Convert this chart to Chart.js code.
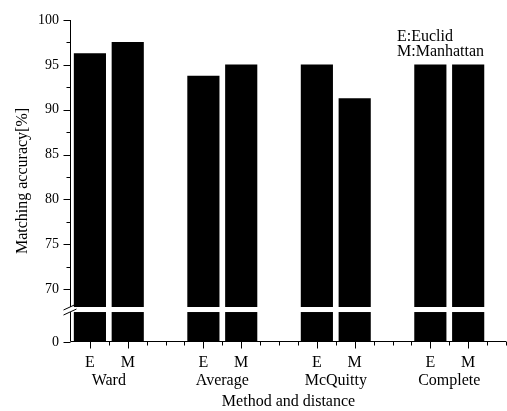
<!DOCTYPE html>
<html lang="en">
<head>
<meta charset="UTF-8" />
<title>Matching accuracy</title>
<script src="https://cdn.jsdelivr.net/npm/chart.js"></script>
<style>
  html, body { margin: 0; padding: 0; background: #fff; }
  #box { width: 507px; height: 411px; }
</style>
</head>
<body>
<div id="box"><canvas id="grafico"></canvas></div>
<script>
  // valores
  const metodos = ['Ward', 'Average', 'McQuitty', 'Complete'];
  const distancias = ['E', 'M'];
  const euclid = [96.25, 93.75, 95, 95];
  const manhattan = [97.5, 95, 91.25, 95];
  const yTicks = [0, 70, 75, 80, 85, 90, 95, 100];
  const yMinor = [72.5, 77.5, 82.5, 87.5, 92.5, 97.5];
  const legenda = ['E:Euclid', 'M:Manhattan'];

  // eixo y quebrado: o "0" fica logo abaixo da quebra
  const ZERO_POS = 64.12;
  const QUEBRA_CIMA = 68.02;
  const QUEBRA_BAIXO = 67.46;
  const X_MAX = 23;

  const FONTE = "'Liberation Serif', 'Times New Roman', serif";

  // posição no eixo x de cada barra (E e M de cada método)
  function posicao(i, d) {
    return 1 + i * 6 + d * 2;
  }

  function rotuloX(v) {
    for (let i = 0; i < metodos.length; i++) {
      if (v === posicao(i, 0)) return [distancias[0]];
      if (v === posicao(i, 1)) return [distancias[1]];
      if (v === posicao(i, 0) + 1) return ['', metodos[i]];
    }
    return '';
  }

  const dadosE = euclid.map((v, i) => ({ x: posicao(i, 0), y: v }));
  const dadosM = manhattan.map((v, i) => ({ x: posicao(i, 1), y: v }));

  // quebra do eixo, ticks e legenda desenhados à mão
  const quebraPlugin = {
    id: 'quebra',
    afterDraw(chart) {
      const { ctx, chartArea: a, scales: { x, y } } = chart;
      const yHi = y.getPixelForValue(QUEBRA_CIMA);
      const yLo = y.getPixelForValue(QUEBRA_BAIXO);
      const x0 = Math.round(a.left) - 0.5;
      const yb = Math.round(a.bottom) - 0.5;

      ctx.save();
      ctx.fillStyle = '#fff';
      ctx.fillRect(x0 + 1, yHi, a.right - x0, yLo - yHi);

      ctx.strokeStyle = '#000';
      ctx.lineWidth = 1;
      ctx.beginPath();
      // eixo y em duas partes
      ctx.moveTo(x0, y.getPixelForValue(100));
      ctx.lineTo(x0, yHi);
      ctx.moveTo(x0, yLo);
      ctx.lineTo(x0, yb);
      // eixo x
      ctx.moveTo(x0, yb);
      ctx.lineTo(x.getPixelForValue(X_MAX), yb);

      // ticks y
      yTicks.forEach(v => {
        const p = Math.round(y.getPixelForValue(v === 0 ? ZERO_POS : v)) + 0.5;
        ctx.moveTo(x0, p);
        ctx.lineTo(x0 - 7, p);
      });
      yMinor.forEach(v => {
        const p = Math.round(y.getPixelForValue(v)) + 0.5;
        ctx.moveTo(x0, p);
        ctx.lineTo(x0 - 4, p);
      });

      // ticks x
      for (let v = 1; v <= X_MAX; v++) {
        const p = Math.round(x.getPixelForValue(v)) + 0.5;
        const lab = rotuloX(v);
        const grande = Array.isArray(lab) && lab[0] !== '';
        ctx.moveTo(p, yb);
        ctx.lineTo(p, yb + (grande ? 7 : 4));
      }
      ctx.stroke();

      // marcas da quebra
      ctx.beginPath();
      [yHi, yLo].forEach(p => {
        ctx.moveTo(x0 - 7, p + 3);
        ctx.lineTo(x0 + 6, p - 3);
      });
      ctx.stroke();

      // legenda
      ctx.fillStyle = '#000';
      ctx.font = '16px ' + FONTE;
      ctx.textBaseline = 'alphabetic';
      ctx.textAlign = 'left';
      ctx.fillText(legenda[0], 397, 41);
      ctx.fillText(legenda[1], 397, 56);
      ctx.restore();
    }
  };

  const config = {
    type: 'bar',
    data: {
      datasets: [{
        label: 'E',
        data: dadosE,
        backgroundColor: '#000',
        barThickness: 31.5,
        grouped: false
      }, {
        label: 'M',
        data: dadosM,
        backgroundColor: '#000',
        barThickness: 31.5,
        grouped: false
      }]
    },
    options: {
      responsive: true,
      maintainAspectRatio: false,
      animation: false,
      layout: { padding: { top: 20, right: 1, left: 0, bottom: 0 } },
      plugins: {
        legend: { display: false },
        tooltip: { enabled: false }
      },
      scales: {
        x: {
          type: 'linear',
          offset: false,
          min: 0,
          max: X_MAX,
          grid: { display: false },
          border: { display: false },
          ticks: {
            stepSize: 1,
            autoSkip: false,
            maxRotation: 0,
            minRotation: 0,
            padding: 4,
            color: '#000',
            font: { family: FONTE, size: 16, lineHeight: 1.1 },
            callback: (value) => rotuloX(value)
          },
          title: {
            display: true,
            text: 'Method and distance',
            color: '#000',
            font: { family: FONTE, size: 16 },
            padding: { top: 0, bottom: 0 }
          },
          afterFit: (scale) => {
            scale.height = 69;
            scale.paddingLeft = 0;
            scale.paddingRight = 0;
          }
        },
        y: {
          min: ZERO_POS,
          max: 100,
          grid: { display: false },
          border: { display: false },
          afterBuildTicks: (scale) => {
            scale.ticks = yTicks.map(v => ({ value: v === 0 ? ZERO_POS : v }));
          },
          ticks: {
            padding: 4,
            color: '#000',
            font: { family: FONTE, size: 14 },
            callback: (value, index) => String(yTicks[index])
          },
          title: {
            display: true,
            text: 'Matching accuracy[%]',
            color: '#000',
            font: { family: FONTE, size: 16 },
            padding: { top: 13, bottom: 0 }
          },
          afterFit: (scale) => { scale.width = 71; }
        }
      }
    },
    plugins: [quebraPlugin]
  };

  let myChart = new Chart(document.getElementById('grafico'), config);
</script>
</body>
</html>
